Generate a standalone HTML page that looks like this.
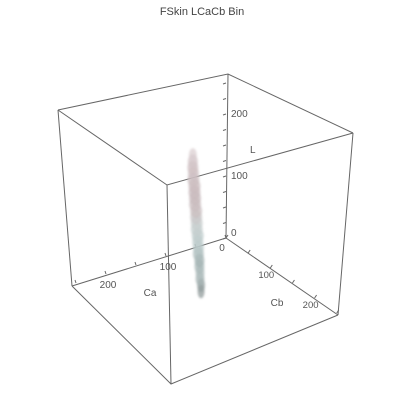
<!DOCTYPE html>
<html><head><meta charset="utf-8"><style>
html,body{margin:0;padding:0;background:#fff;}
svg{display:block;font-family:"Liberation Sans",sans-serif;}
</style></head><body>
<svg id="chart" width="404" height="418" viewBox="0 0 404 418">
<defs><filter id="soft" x="-50%" y="-10%" width="200%" height="120%"><feGaussianBlur stdDeviation="1.1"/></filter></defs>
<text x="202" y="15" text-anchor="middle" font-size="11" fill="#444">FSkin LCaCb Bin</text>
<g stroke="#666" stroke-width="1" fill="none">
<polyline points="58,110 228,74 353,133" />
<polyline points="58,110 167,185 353,133" />
<line x1="58" y1="110" x2="72" y2="286"/>
<line x1="353" y1="133" x2="338" y2="315"/>
<line x1="167" y1="185" x2="171" y2="384"/>
<polyline points="72,286 171,384 338,315"/>
</g>
<g id="axes" stroke="#666" stroke-width="1"></g>
<g id="labels" font-size="10" fill="#555"></g>
<g id="blob" filter="url(#soft)"></g>
</svg>
<script>
// data
const lBins   = [5,15,25,35,45,55,65,75,85,95,105,115,125,135,145,155,165,175,185,195,205,215,225];
const caMean  = [125,125,126,126,127,127,128,128,129,129,130,130,131,131,132,132,133,133,134,134,135,135,135];
const cbMean  = [113,113,112,112,112,112,111,111,111,111,110,110,110,110,109,109,109,109,108,108,108,108,108];
const spread  = [5,6,7,7,8,8,9,9,9,10,10,10,10,10,10,10,10,10,10,9,9,8,6];
const binColor= ['#8a9595','#909c9c','#a2b0b0','#aebcbc','#a8b8b8','#9fb0b0','#a8b8b8','#b4c4c4','#bccaca','#bccaca','#c2cccc','#c6cccc','#c8c4c6','#c8bcbe','#c8babc','#c6b8ba','#c8b8ba','#c8b8ba','#cabcbe','#ccbec0','#cebec0','#d0c2c4','#d8ccce'];
const caTicks = [0,50,100,150,200,250];
const cbTicks = [0,50,100,150,200,250];
const lTicks  = [0,25,50,75,100,125,150,175,200,225,250];
const labelTicks = [0,100,200];

const O = {x:226, y:238};
function px(ca,cb,L){ return {x:O.x-0.6*ca+0.443*cb, y:O.y+0.18*ca+0.3*cb-0.62*L}; }
const NS='http://www.w3.org/2000/svg';
function mk(tag,attrs,parent){const e=document.createElementNS(NS,tag);for(const k in attrs)e.setAttribute(k,attrs[k]);parent.appendChild(e);return e;}
const ax=document.getElementById('axes'), lb=document.getElementById('labels'), bl=document.getElementById('blob');

let a=px(0,0,0);
let e=mk('line',{x1:a.x,y1:a.y,x2:72,y2:286},ax);


e=mk('line',{x1:a.x,y1:a.y,x2:338,y2:315},ax);


e=mk('line',{x1:a.x,y1:a.y,x2:228,y2:74},ax);



caTicks.forEach(v=>{const p=px(v,0,0);
 const t=mk('line',{x1:p.x,y1:p.y,x2:p.x-1,y2:p.y-3},ax);
 
 });
cbTicks.forEach(v=>{const p=px(0,v,0);
 const t=mk('line',{x1:p.x,y1:p.y,x2:p.x+2,y2:p.y-3},ax);
 
 });
lTicks.forEach(v=>{const p=px(0,0,v);
 const t=mk('line',{x1:p.x,y1:p.y,x2:p.x-3,y2:p.y+1},ax);
 
 });

labelTicks.forEach(v=>{
 let p=px(v,0,0);
 let t=mk('text',{x:v?p.x+2:p.x-4,y:p.y+(v?14:13),'text-anchor':'middle'},lb);t.textContent=v;
 
 
 if(v){
 p=px(0,v,0);
 t=mk('text',{x:p.x-4,y:p.y+10,'text-anchor':'middle','font-size':'9.5'},lb);t.textContent=v;
 
 
 }
 p=px(0,0,v);
 t=mk('text',{x:p.x+5,y:p.y+(v?3:-2)},lb);t.textContent=v;
 
 
});
let t=mk('text',{x:150,y:296,'text-anchor':'middle'},lb);t.textContent='Ca';


t=mk('text',{x:277,y:306,'text-anchor':'middle'},lb);t.textContent='Cb';


t=mk('text',{x:250,y:153},lb);t.textContent='L';



lBins.forEach((L,i)=>{
 const p=px(caMean[i],cbMean[i],L);
 const r=mk('ellipse',{cx:p.x,cy:p.y,rx:spread[i]/2+1,ry:7,fill:binColor[i],'fill-opacity':0.7},bl);
 
 
});
</script>
</body></html>
